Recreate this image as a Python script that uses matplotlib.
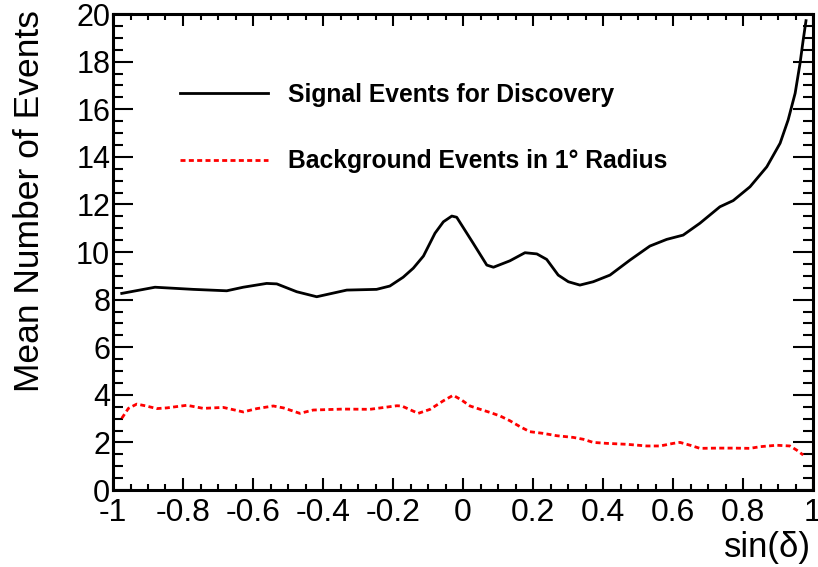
import matplotlib
matplotlib.use("Agg")
import matplotlib.pyplot as plt
from matplotlib.ticker import MultipleLocator, FuncFormatter

plt.rcParams['font.family'] = ['Liberation Sans', 'DejaVu Sans']
plt.rcParams['axes.unicode_minus'] = False

# signal events needed for discovery vs sin(dec)
sig_x = [-0.975, -0.88, -0.771, -0.675, -0.628, -0.561, -0.532, -0.475, -0.418,
         -0.332, -0.247, -0.209, -0.171, -0.142, -0.113, -0.08, -0.056, -0.032,
         -0.018, 0.029, 0.068, 0.087, 0.134, 0.177, 0.211, 0.239, 0.272, 0.301,
         0.334, 0.372, 0.42, 0.477, 0.534, 0.582, 0.629, 0.677, 0.734, 0.772,
         0.82, 0.868, 0.906, 0.929, 0.949, 0.963, 0.972, 0.98]
sig_y = [8.26, 8.52, 8.43, 8.37, 8.52, 8.68, 8.66, 8.33, 8.12,
         8.40, 8.43, 8.57, 8.94, 9.32, 9.83, 10.79, 11.27, 11.51,
         11.46, 10.37, 9.45, 9.36, 9.63, 9.97, 9.92, 9.69, 9.03, 8.75,
         8.61, 8.75, 9.03, 9.66, 10.25, 10.53, 10.71, 11.21, 11.90, 12.16,
         12.74, 13.58, 14.57, 15.55, 16.67, 17.93, 18.91, 19.72]

# background events in 1 degree radius
bkg_x = [-0.975, -0.956, -0.932, -0.905, -0.875, -0.846, -0.789, -0.742, -0.685,
         -0.628, -0.589, -0.542, -0.513, -0.466, -0.428, -0.342, -0.266, -0.189,
         -0.175, -0.128, -0.094, -0.056, -0.028, -0.004, 0.02, 0.049, 0.077,
         0.106, 0.134, 0.163, 0.191, 0.229, 0.268, 0.315, 0.344, 0.372, 0.41,
         0.468, 0.525, 0.563, 0.601, 0.62, 0.649, 0.677, 0.725, 0.772, 0.82,
         0.849, 0.896, 0.934, 0.953, 0.972]
bkg_y = [3.01, 3.43, 3.61, 3.53, 3.42, 3.45, 3.56, 3.43, 3.47,
         3.28, 3.42, 3.53, 3.45, 3.22, 3.36, 3.40, 3.39, 3.54,
         3.53, 3.22, 3.39, 3.75, 3.98, 3.78, 3.53, 3.39, 3.26,
         3.11, 2.91, 2.66, 2.45, 2.38, 2.28, 2.21, 2.13, 2.00, 1.96,
         1.92, 1.85, 1.85, 1.96, 2.00, 1.88, 1.75, 1.76, 1.76, 1.75,
         1.82, 1.88, 1.85, 1.68, 1.47]

fig = plt.figure(figsize=(8.18, 5.67), dpi=100)
ax = fig.add_axes([113/818, 77/567, 700/818, 476/567])

ax.plot(sig_x, sig_y, color='black', lw=2, label='Signal Events for Discovery')
ax.plot(bkg_x, bkg_y, color='red', lw=2, dashes=(1.8, 1.2),
        label='Background Events in 1° Radius')

ax.set_xlim(-1, 1)
ax.set_ylim(0, 20)
ax.xaxis.set_major_locator(MultipleLocator(0.2))
ax.xaxis.set_minor_locator(MultipleLocator(0.05))
ax.yaxis.set_major_locator(MultipleLocator(2))
ax.yaxis.set_minor_locator(MultipleLocator(0.5))
ax.xaxis.set_major_formatter(FuncFormatter(lambda v, p: '%g' % round(v, 2)))

for s in ax.spines.values():
    s.set_linewidth(2.2)
ax.tick_params(which='both', direction='in', top=True, right=True, width=1.5)
ax.tick_params(axis='x', which='major', length=8.6, pad=6, labelsize=23)
ax.tick_params(axis='x', which='minor', length=4.3)
ax.tick_params(axis='y', which='major', length=14.4, pad=2, labelsize=22)
ax.tick_params(axis='y', which='minor', length=7.2)

fig.text(30/818, 1 - 10/567, 'Mean Number of Events', rotation=90,
         ha='center', va='top', fontsize=25.5)
fig.text(811/818, 1 - 548/567, 'sin(δ)', ha='right', va='center', fontsize=25)

ax.legend(loc='upper left', bbox_to_anchor=(67/700, 1 - 69/476), frameon=False,
          prop={'weight': 'bold', 'size': 17.7}, handlelength=3.58,
          handletextpad=0.81, labelspacing=1.72, borderpad=0, borderaxespad=0)

fig.savefig('out.png', dpi=100)
